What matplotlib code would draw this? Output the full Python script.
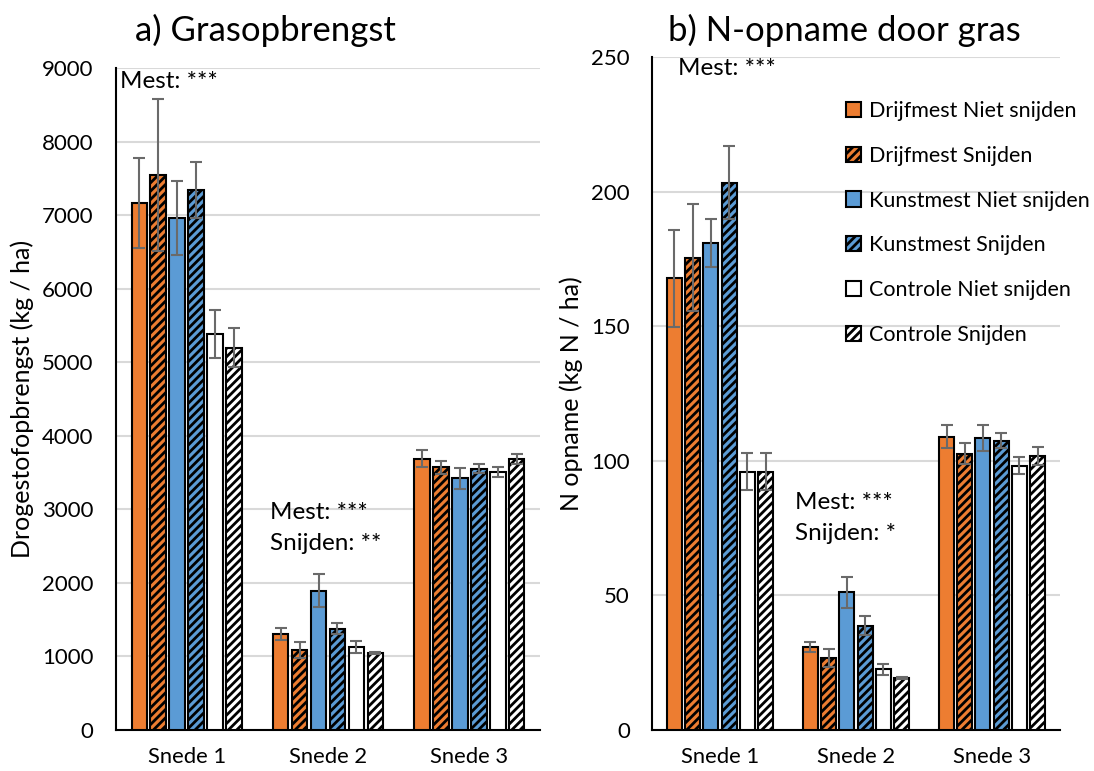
import numpy as np
import matplotlib
matplotlib.use("Agg")
import matplotlib.pyplot as plt

plt.rcParams['font.family'] = ['Lato', 'DejaVu Sans']
plt.rcParams['hatch.linewidth'] = 2.0

# categorieen en reeksen
snedes = ["Snede 1", "Snede 2", "Snede 3"]
reeksen = ["Drijfmest Niet snijden", "Drijfmest Snijden",
           "Kunstmest Niet snijden", "Kunstmest Snijden",
           "Controle Niet snijden", "Controle Snijden"]
kleuren = ["#ED7D31", "#ED7D31", "#5B9BD5", "#5B9BD5", "white", "white"]
arceringen = [None, "////", None, "////", None, "////"]

# a) grasopbrengst (kg ds / ha), per reeks: snede 1, 2, 3
opbrengst = [
    [7160, 1300, 3690],
    [7545, 1087, 3570],
    [6960, 1894, 3420],
    [7340, 1377, 3555],
    [5383, 1128, 3503],
    [5200, 1042, 3680],
]
opbrengst_fout = [
    [610, 80, 120],
    [1030, 105, 90],
    [500, 220, 145],
    [385, 75, 63],
    [325, 80, 68],
    [260, 12, 68],
]

# b) N-opname (kg N / ha)
nopname = [
    [167.8, 30.8, 109.0],
    [175.5, 26.7, 102.7],
    [181.0, 51.1, 108.5],
    [203.3, 38.8, 107.5],
    [96.0, 22.5, 98.2],
    [96.0, 19.4, 101.9],
]
nopname_fout = [
    [18, 2.0, 4.3],
    [20, 3.3, 3.8],
    [9, 5.7, 4.8],
    [13.6, 3.6, 2.7],
    [7, 2.1, 3.1],
    [7, 0.4, 3.4],
]

fig = plt.figure(figsize=(10.94, 7.71), dpi=100)
ax1 = fig.add_axes([0.106, 0.0532, 0.3876, 0.8586])
ax2 = fig.add_axes([0.596, 0.0532, 0.373, 0.8728])

x = np.arange(len(snedes))
slot = 0.134
breedte = 0.11


def teken(ax, waarden, fouten):
    for i in range(len(reeksen)):
        pos = x + (i - 2.5) * slot
        ax.bar(pos, waarden[i], width=breedte, color=kleuren[i],
               edgecolor="black", linewidth=1.5, hatch=arceringen[i],
               label=reeksen[i], zorder=3)
        ax.errorbar(pos, waarden[i], yerr=fouten[i], fmt="none",
                    ecolor="#6a6a6a", elinewidth=1.5, capsize=4,
                    capthick=1.5, zorder=4)
    ax.set_xticks(x)
    ax.set_xticklabels(snedes, fontsize=15.8)
    ax.set_xlim(-0.5, 2.5)
    ax.grid(axis="y", color="#d9d9d9", linewidth=1.5, zorder=0)
    ax.tick_params(axis="both", length=0)
    ax.tick_params(axis="y", pad=16, labelsize=16)
    ax.tick_params(axis="x", pad=12)
    for s in ["top", "right"]:
        ax.spines[s].set_visible(False)
    ax.spines["left"].set_linewidth(1.5)
    ax.spines["bottom"].set_linewidth(1.5)


teken(ax1, opbrengst, opbrengst_fout)
ax1.set_ylim(0, 9000)
ax1.set_yticks(range(0, 9001, 1000))
ax1.set_ylabel("Drogestofopbrengst (kg / ha)", fontsize=18, labelpad=6)
ax1.text(-0.47, 8960, "Mest: ***", fontsize=17.5, va="top", ha="left")
ax1.text(0.59, 3100, "Mest: ***", fontsize=17.5, va="top", ha="left")
ax1.text(0.59, 2680, "Snijden: **", fontsize=17.5, va="top", ha="left")

teken(ax2, nopname, nopname_fout)
ax2.set_ylim(0, 250)
ax2.set_yticks(range(0, 251, 50))
ax2.set_ylabel("N opname (kg N / ha)", fontsize=18, labelpad=6)
ax2.text(-0.31, 249.5, "Mest: ***", fontsize=17.5, va="top", ha="left")
ax2.text(0.55, 88.5, "Mest: ***", fontsize=17.5, va="top", ha="left")
ax2.text(0.55, 77, "Snijden: *", fontsize=17.5, va="top", ha="left")

ax2.legend(loc="upper left", bbox_to_anchor=(846 / 1094, 1 - 101 / 771),
           bbox_transform=fig.transFigure, frameon=False, fontsize=15.5,
           handlelength=0.7, handleheight=0.7, handletextpad=0.35,
           labelspacing=1.15, borderpad=0, borderaxespad=0)

fig.text(135 / 1094, 1 - 30 / 771, "a) Grasopbrengst", fontsize=25,
         va="center", ha="left")
fig.text(668 / 1094, 1 - 30 / 771, "b) N-opname door gras", fontsize=25,
         va="center", ha="left")

fig.savefig("out.png", dpi=100)
